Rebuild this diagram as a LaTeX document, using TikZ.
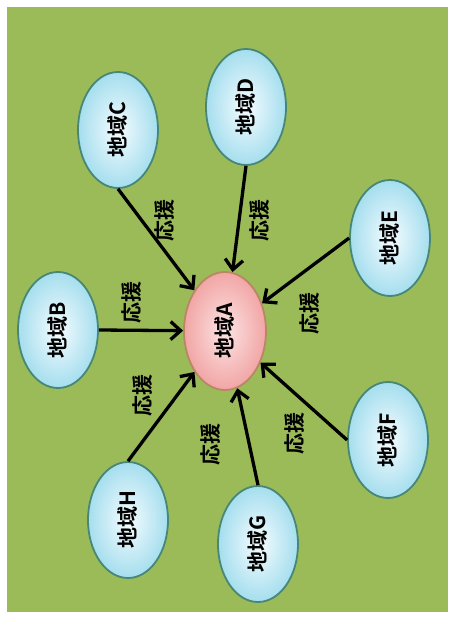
\documentclass[tikz,border=0pt]{standalone}
\usepackage{fontspec}
\setmainfont{Noto Sans CJK JP}[BoldFont={Noto Sans CJK JP Bold}]
\usetikzlibrary{shapes.geometric,arrows.meta}
\definecolor{bggreen}{RGB}{155,187,89}
\definecolor{edgeteal}{RGB}{70,135,120}
\definecolor{bluein}{RGB}{245,252,255}
\definecolor{blueout}{RGB}{165,222,238}
\definecolor{pinkin}{RGB}{252,228,228}
\definecolor{pinkout}{RGB}{242,165,165}
\definecolor{edgebrown}{RGB}{185,135,100}
\tikzset{
  region/.style={ellipse, draw=edgeteal, line width=1.8pt, inner color=bluein, outer color=blueout,
    minimum width=80pt, minimum height=116pt, inner sep=0pt, font=\fontsize{21}{21}\selectfont\bfseries},
  center/.style={region, draw=edgebrown, inner color=pinkin, outer color=pinkout, minimum width=82pt, minimum height=118pt},
  support/.style={rotate=90, font=\fontsize{21}{21}\selectfont\bfseries, inner sep=0pt},
  link/.style={line width=3.3pt, -{Straight Barb[length=10pt,width=18pt,line width=3.3pt]}}
}
\begin{document}
\begin{tikzpicture}[x=1pt,y=-1pt]
\useasboundingbox (0,0) rectangle (454,619);
\fill[white] (0,0) rectangle (454,619);
\fill[bggreen] (7,7) rectangle (448,612);
\node[center] (A) at (225,331) {\rotatebox{90}{地域A}};
\node[region] (B) at (58,330) {\rotatebox{90}{地域B}};
\node[region] (C) at (118,130) {\rotatebox{90}{地域C}};
\node[region] (D) at (246,107) {\rotatebox{90}{地域D}};
\node[region] (E) at (390,238) {\rotatebox{90}{地域E}};
\node[region] (F) at (388,440) {\rotatebox{90}{地域F}};
\node[region] (G) at (258,544) {\rotatebox{90}{地域G}};
\node[region] (H) at (128,520) {\rotatebox{90}{地域H}};
\draw[link] (B.east) -- (A);
\draw[link] (C.south) -- (A);
\draw[link] (D.south) -- (A);
\draw[link] (E.west) -- (A);
\draw[link] (F.west) -- (A);
\draw[link] (G.north) -- (A);
\draw[link] (H.north) -- (A);
\node[support] (lb) at (132,302) {応援};
\node[support] (lc) at (165,220) {応援};
\node[support] (ld) at (260,220) {応援};
\node[support] (le) at (310,313) {応援};
\node[support] (lf) at (295,433) {応援};
\node[support] (lg) at (211,444) {応援};
\node[support] (lh) at (143,395) {応援};
\end{tikzpicture}
\end{document}
